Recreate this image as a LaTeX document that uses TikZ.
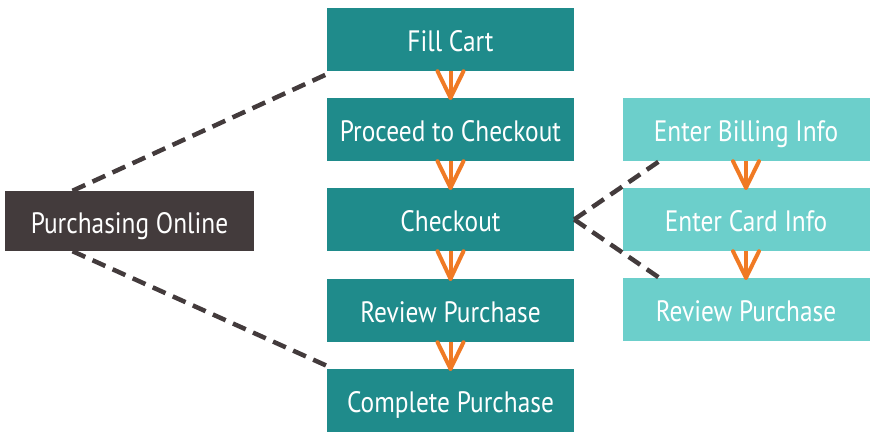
\documentclass[tikz,border=0pt]{standalone}
\usepackage{fontspec}
\setmainfont{PT Sans}[FakeStretch=0.86]
\definecolor{dark}{HTML}{433B3C}
\definecolor{teal1}{HTML}{1F8B8B}
\definecolor{teal2}{HTML}{6CCFCB}
\definecolor{orng}{HTML}{F07A24}
\tikzset{
  box/.style={rectangle, inner sep=0pt, minimum width=247pt, minimum height=63pt, text=white, text height=24.6pt, text depth=0pt, font=\fontsize{29.5}{32}\selectfont},
  mainbox/.style={box, fill=teal1},
  subbox/.style={box, fill=teal2},
  rootbox/.style={box, fill=dark, minimum width=249pt, minimum height=60pt},
  dashline/.style={draw=dark, line width=4.5pt, dash pattern=on 14pt off 8pt},
  flow/.style={draw=orng, line width=4pt},
}
\begin{document}
\begin{tikzpicture}[x=1pt,y=-1pt]
\useasboundingbox (0,0) rectangle (878,441);
\node[rootbox] (po) at (129.5,221) {Purchasing Online};
\node[mainbox] (fc) at (450.5,39.5) {Fill Cart};
\node[mainbox] (pc) at (450.5,129.5) {Proceed to Checkout};
\node[mainbox] (co) at (450.5,219.5) {Checkout};
\node[mainbox] (rp) at (450.5,310.5) {Review Purchase};
\node[mainbox] (cp) at (450.5,400.5) {Complete Purchase};
\node[subbox] (eb) at (746,129.5) {Enter Billing Info};
\node[subbox] (ec) at (746,219.5) {Enter Card Info};
\node[subbox] (er) at (746,309.5) {Review Purchase};
% dashed connectors
\draw[dashline] ([xshift=-57pt]po.north) -- ([yshift=-3pt]fc.south west);
\draw[dashline] ([xshift=-57pt]po.south) -- ([yshift=3pt]cp.north west);
\draw[dashline] (co.east) -- ([xshift=37pt]eb.south west);
\draw[dashline] (co.east) -- ([xshift=37pt]er.north west);
% orange arrows
\foreach \a/\b in {fc/pc,pc/co,co/rp,rp/cp,eb/ec,ec/er}{
  \draw[flow] (\a.south) -- (\b.north);
  \draw[flow, line cap=round] ([xshift=-13pt]\a.south) -- (\b.north);
  \draw[flow, line cap=round] ([xshift=13pt]\a.south) -- (\b.north);
}
\end{tikzpicture}
\end{document}
